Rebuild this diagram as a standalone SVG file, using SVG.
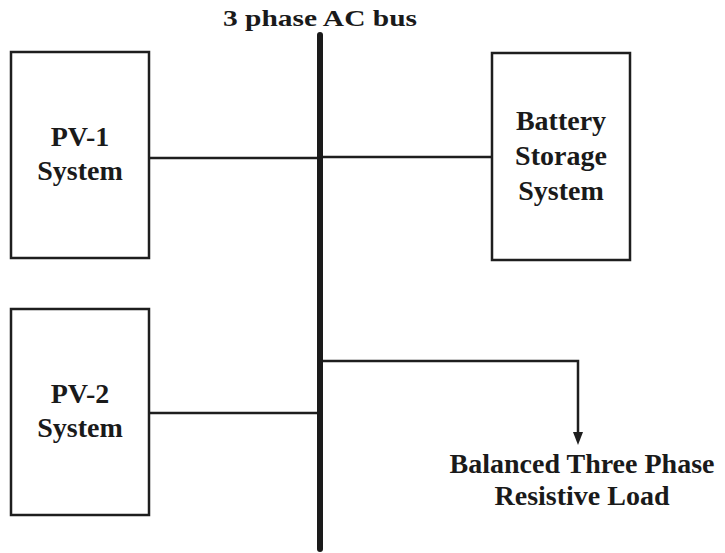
<svg xmlns="http://www.w3.org/2000/svg" width="725" height="553" viewBox="0 0 725 553">
<defs>
<style>
.box{fill:#fff;stroke:#1e1e1e;stroke-width:2.5}
.wire{fill:none;stroke:#1e1e1e;stroke-width:2.5}
.bus{fill:none;stroke:#1a1a1a;stroke-width:6;stroke-linecap:round}
text{font-family:'Liberation Serif',Tinos,'Times New Roman',Times,serif;font-weight:700;fill:#1a1a1a;text-anchor:middle}
.lbl{font-size:28px}
.title{font-size:24px}
</style>
</defs>
<rect width="725" height="553" fill="#fff"/>
<g id="connectors">
<line class="wire" x1="149" y1="158" x2="320" y2="158"/>
<line class="wire" x1="320" y1="157" x2="492" y2="157"/>
<line class="wire" x1="149" y1="413" x2="320" y2="413"/>
<path class="wire" d="M320,361 H578 V433"/>
<path d="M573,432 L583,432 L578,445 Z" fill="#1e1e1e"/>
</g>
<g id="bus">
<line class="bus" x1="320" y1="35" x2="320" y2="549"/>
<text class="title" x="320" y="26" textLength="194" lengthAdjust="spacingAndGlyphs">3 phase AC bus</text>
</g>
<g id="pv1">
<rect class="box" x="11" y="52" width="138" height="206"/>
<text class="lbl" x="80" y="146">PV-1</text>
<text class="lbl" x="80" y="180">System</text>
</g>
<g id="battery">
<rect class="box" x="492" y="53" width="138" height="207"/>
<text class="lbl" x="561" y="130">Battery</text>
<text class="lbl" x="561" y="165">Storage</text>
<text class="lbl" x="561" y="200">System</text>
</g>
<g id="pv2">
<rect class="box" x="11" y="309" width="138" height="206"/>
<text class="lbl" x="80" y="403">PV-2</text>
<text class="lbl" x="80" y="437">System</text>
</g>
<g id="load">
<text class="lbl" x="582" y="473">Balanced Three Phase</text>
<text class="lbl" x="582" y="505">Resistive Load</text>
</g>
</svg>
